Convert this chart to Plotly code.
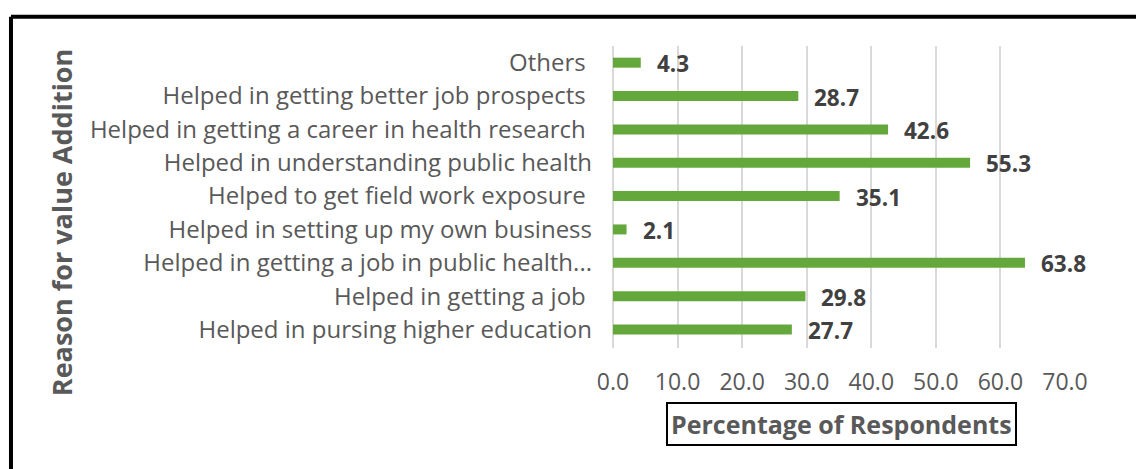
import plotly.graph_objects as go

# Survey results: reasons the programme added value
reasons = [
    "Helped in pursing higher education",
    "Helped in getting a job\u00a0",
    "Helped in getting a job in public health...",
    "Helped in setting up my own business",
    "Helped to get field work exposure\u00a0",
    "Helped in understanding public health",
    "Helped in getting a career in health research\u00a0",
    "Helped in getting better job prospects\u00a0",
    "Others\u00a0",
]
percentages = [27.7, 29.8, 63.8, 2.1, 35.1, 55.3, 42.6, 28.7, 4.3]
x_ticks = [0, 10, 20, 30, 40, 50, 60, 70]

FONT = "Open Sans"
GREY = "#595959"
BAR = "#64A83C"

fig = go.Figure()
fig.add_trace(go.Bar(
    x=percentages,
    y=reasons,
    orientation="h",
    marker=dict(color=BAR, line=dict(width=0)),
    width=0.3,
    hoverinfo="x+y",
))

annotations = []
for r, v in zip(reasons, percentages):
    annotations.append(dict(
        x=v, y=r, xref="x", yref="y", text=f"<b>{v:.1f}</b>",
        showarrow=False, xanchor="left", xshift=14, yshift=-1,
        font=dict(family=FONT, size=22.5, color="#404040"),
    ))

# vertical axis title
annotations.append(dict(
    x=-1.221, y=0.417, xref="paper", yref="paper",
    text="<b>Reason for value Addition</b>", textangle=-90, showarrow=False,
    xanchor="center", yanchor="middle",
    font=dict(family=FONT, size=27, color=GREY),
))
# boxed horizontal axis title
annotations.append(dict(
    x=0.5055, y=-0.2533, xref="paper", yref="paper",
    text="<b>Percentage of Respondents</b>", showarrow=False,
    xanchor="center", yanchor="middle",
    font=dict(family=FONT, size=25, color=GREY),
    bordercolor="black", borderwidth=2, borderpad=3, bgcolor="white",
))

shapes = [
    # outer frame (left and top edges)
    dict(type="line", xref="paper", yref="paper", x0=-1.3319, x1=-1.3319,
         y0=1.097, y1=-0.6, line=dict(color="black", width=4)),
    dict(type="line", xref="paper", yref="paper", x0=-1.3319, x1=1.3,
         y0=1.097, y1=1.097, line=dict(color="black", width=4)),
]

fig.update_layout(
    width=1136, height=469,
    margin=dict(l=613, r=71, t=46, b=121),
    paper_bgcolor="white", plot_bgcolor="white",
    showlegend=False,
    bargap=0.7,
    xaxis=dict(
        range=[0, 70], tickvals=x_ticks, ticktext=[f"{t:.1f}" for t in x_ticks],
        showgrid=True, gridcolor="#D9D9D9", gridwidth=1.5,
        zeroline=True, zerolinecolor="#D9D9D9", zerolinewidth=1.5,
        showline=False, ticks="", ticklabelstandoff=18,
        tickfont=dict(family=FONT, size=23, color=GREY),
        fixedrange=True,
    ),
    yaxis=dict(
        categoryorder="array", categoryarray=reasons,
        showgrid=False, zeroline=False, showline=False, ticks="",
        ticklabelstandoff=20,
        tickfont=dict(family=FONT, size=24, color=GREY),
        fixedrange=True,
    ),
    annotations=annotations,
    shapes=shapes,
)

fig.write_html("out.html")
